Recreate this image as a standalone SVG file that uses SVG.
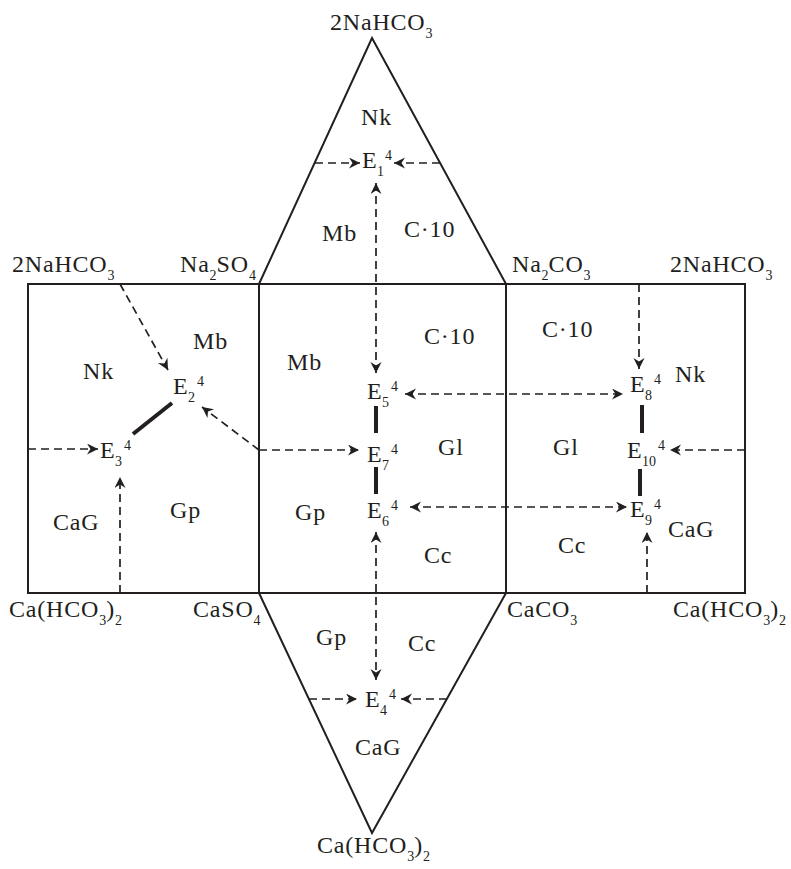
<svg xmlns="http://www.w3.org/2000/svg" width="791" height="869" viewBox="0 0 791 869">
<style>
text{font-family:"Liberation Serif","Times New Roman",serif;font-size:24px;fill:#231f20;letter-spacing:0.8px}
.s{font-size:14px;letter-spacing:0}
.frame{fill:none;stroke:#231f20;stroke-width:2;stroke-linejoin:miter}
.d{fill:none;stroke:#231f20;stroke-width:1.7;stroke-dasharray:8,5}
.a{marker-end:url(#ah)}
.b{marker-start:url(#ah);marker-end:url(#ah)}
.t{fill:none;stroke:#231f20;stroke-width:4}
</style>
<defs>
<marker id="ah" markerUnits="userSpaceOnUse" markerWidth="13" markerHeight="13" refX="11" refY="5.5" orient="auto-start-reverse" viewBox="0 0 13 13">
<path d="M0,0 L11,5.5 L0,11 L3.5,5.5 z" fill="#231f20"/>
</marker>
</defs>
<rect width="791" height="869" fill="#fff"/>
<g id="frame">
<rect class="frame" x="28" y="284" width="717" height="309"/>
<line class="frame" x1="259" y1="284" x2="259" y2="593"/>
<line class="frame" x1="506" y1="284" x2="506" y2="593"/>
<polyline class="frame" points="259,284 372,38 506,284"/>
<polyline class="frame" points="259,593 372,833 506,593"/>
</g>
<g id="corner-labels">
<text x="330" y="30">2NaHCO<tspan class="s" dy="8">3</tspan></text>
<text x="12" y="272">2NaHCO<tspan class="s" dy="8">3</tspan></text>
<text x="180" y="272">Na<tspan class="s" dy="8">2</tspan><tspan dy="-8">SO</tspan><tspan class="s" dy="8">4</tspan></text>
<text x="512" y="272">Na<tspan class="s" dy="8">2</tspan><tspan dy="-8">CO</tspan><tspan class="s" dy="8">3</tspan></text>
<text x="670" y="272">2NaHCO<tspan class="s" dy="8">3</tspan></text>
<text x="9" y="617">Ca(HCO<tspan class="s" dy="8">3</tspan><tspan dy="-8">)</tspan><tspan class="s" dy="8">2</tspan></text>
<text x="193" y="617">CaSO<tspan class="s" dy="8">4</tspan></text>
<text x="507" y="617">CaCO<tspan class="s" dy="8">3</tspan></text>
<text x="673" y="617">Ca(HCO<tspan class="s" dy="8">3</tspan><tspan dy="-8">)</tspan><tspan class="s" dy="8">2</tspan></text>
<text x="317" y="853">Ca(HCO<tspan class="s" dy="8">3</tspan><tspan dy="-8">)</tspan><tspan class="s" dy="8">2</tspan></text>
</g>
<g id="field-labels">
<text x="361" y="125">Nk</text>
<text x="322" y="241">Mb</text>
<text x="404" y="237">C·10</text>
<text x="83" y="379">Nk</text>
<text x="193" y="349">Mb</text>
<text x="170" y="518">Gp</text>
<text x="53" y="530">CaG</text>
<text x="287" y="370">Mb</text>
<text x="424" y="344">C·10</text>
<text x="438" y="455">Gl</text>
<text x="295" y="520">Gp</text>
<text x="424" y="563">Cc</text>
<text x="542" y="337">C·10</text>
<text x="675" y="382">Nk</text>
<text x="553" y="455">Gl</text>
<text x="558" y="553">Cc</text>
<text x="668" y="537">CaG</text>
<text x="316" y="645">Gp</text>
<text x="408" y="651">Cc</text>
<text x="355" y="755">CaG</text>
</g>
<g id="E1"><text x="362" y="168">E<tspan class="s" x="377" y="176">1</tspan><tspan class="s" x="385" y="160">4</tspan></text></g>
<g id="E2"><text x="173" y="394">E<tspan class="s" x="188" y="402">2</tspan><tspan class="s" x="197" y="386">4</tspan></text></g>
<g id="E3"><text x="100" y="458">E<tspan class="s" x="115" y="466">3</tspan><tspan class="s" x="124" y="450">4</tspan></text></g>
<g id="E5"><text x="367" y="399">E<tspan class="s" x="382" y="407">5</tspan><tspan class="s" x="391" y="391">4</tspan></text></g>
<g id="E7"><text x="367" y="462">E<tspan class="s" x="382" y="470">7</tspan><tspan class="s" x="391" y="454">4</tspan></text></g>
<g id="E6"><text x="367" y="518">E<tspan class="s" x="382" y="526">6</tspan><tspan class="s" x="391" y="510">4</tspan></text></g>
<g id="E8"><text x="630" y="392">E<tspan class="s" x="645" y="400">8</tspan><tspan class="s" x="654" y="384">4</tspan></text></g>
<g id="E10"><text x="627" y="458">E<tspan class="s" x="642" y="466">10</tspan><tspan class="s" x="658" y="450">4</tspan></text></g>
<g id="E9"><text x="630" y="517">E<tspan class="s" x="645" y="525">9</tspan><tspan class="s" x="654" y="509">4</tspan></text></g>
<g id="E4"><text x="365" y="707">E<tspan class="s" x="380" y="715">4</tspan><tspan class="s" x="389" y="699">4</tspan></text></g>
<g id="connectors">
<path class="d a" d="M315,163 L360,163"/>
<path class="d a" d="M440,163 L394,163"/>
<path class="d b" d="M376,183 L376,373"/>
<path class="d b" d="M405,394 L623,394"/>
<path class="d b" d="M410,507 L627,507"/>
<path class="d a" d="M259,450 L359,450"/>
<path class="d a" d="M259,450 L202,407"/>
<path class="d a" d="M120,284 L168,370"/>
<path class="d a" d="M28,449 L98,449"/>
<path class="d a" d="M120,593 L120,477"/>
<path class="d a" d="M639,284 L639,369"/>
<path class="d a" d="M745,450 L670,450"/>
<path class="d a" d="M647,593 L647,532"/>
<path class="d b" d="M376,532 L376,680"/>
<path class="d a" d="M309,699 L357,699"/>
<path class="d a" d="M447,699 L401,699"/>
<path class="t" d="M172,403 L133,434"/>
<path class="t" d="M376,406 L376,433"/>
<path class="t" d="M376,467 L376,494"/>
<path class="t" d="M642,405 L642,433"/>
<path class="t" d="M640,469 L640,496"/>
</g>
</svg>
